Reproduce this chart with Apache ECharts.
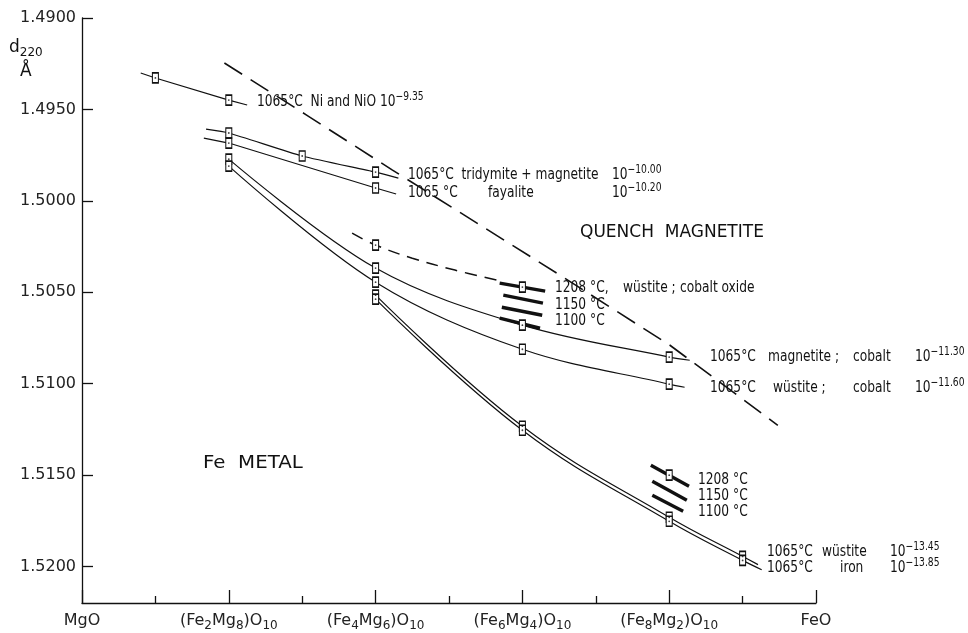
<!DOCTYPE html>
<html><head><meta charset="utf-8">
<script src="https://cdn.jsdelivr.net/npm/echarts@6/dist/echarts.min.js"></script>
<style>html,body{margin:0;padding:0;background:#fff}#c{width:968px;height:633px}</style>
</head><body><div id="c"></div>
<script>
// ---------- axis ticks / labels ----------
const xLabelVals = [0, 2, 4, 6, 8, 10];
const xLabels = ['MgO', '(Fe{s|2}Mg{s|8})O{s|10}', '(Fe{s|4}Mg{s|6})O{s|10}', '(Fe{s|6}Mg{s|4})O{s|10}', '(Fe{s|8}Mg{s|2})O{s|10}', 'FeO'];
const yMin = 1.4900, yMax = 1.5220, yStep = 0.0050;

// ---------- series values [composition index, d220 in Å] ----------
// 1065 °C Ni and NiO 10^-9.35
const niPts = [[1, 1.49328], [2, 1.49449]];
const niEnds = [[0.80, 1.49301], [2.25, 1.49476]];
// 1065 °C tridymite + magnetite 10^-10.00
const tridPts = [[2, 1.49629], [3, 1.49755], [4, 1.49843]];
const tridEnds = [[1.69, 1.49608], [4.31, 1.49876]];
// 1065 °C fayalite 10^-10.20
const fayPts = [[2, 1.49684], [4, 1.49930]];
const fayEnds = [[1.66, 1.49657], [4.28, 1.49963]];
// 1065 °C magnetite; cobalt 10^-11.30
const magCoPts = [[2, 1.49772], [4, 1.50368], [6, 1.50680], [8, 1.50855]];
const magCoEnds = [null, [8.28, 1.50872]];
// 1065 °C wüstite; cobalt 10^-11.60
const wusCoPts = [[2, 1.49810], [4, 1.50445], [6, 1.50812], [8, 1.51003]];
const wusCoEnds = [null, [8.21, 1.51020]];
// 1065 °C wüstite 10^-13.45
const wusPts = [[4, 1.50516], [6, 1.51233], [8, 1.51731], [9, 1.51945]];
const wusEnds = [null, [9.21, 1.51990]];
// 1065 °C iron 10^-13.85
const ironPts = [[4, 1.50538], [6, 1.51255], [8, 1.51753], [9, 1.51967]];
const ironEnds = [null, [9.26, 1.52018]];
// 1208 °C quench curve (dashed)
const quenchPts = [[4, 1.50242]];
const quenchPath = [[3.68, 1.50177], [4, 1.50242], [4.50, 1.50314], [5.08, 1.50379], [5.65, 1.50434]];
// quench-magnetite boundary (long dashes)
const boundary = [[1.94, 1.49246], [3.06, 1.49531], [4.23, 1.49832], [6.47, 1.50396], [8.01, 1.50790], [9.48, 1.51228]];
// 1208 / 1150 / 1100 °C short heavy segments
const heavy6 = [
  [[5.69, 1.50450], [6.31, 1.50494]],
  [[5.74, 1.50516], [6.28, 1.50560]],
  [[5.72, 1.50582], [6.27, 1.50626]],
  [[5.69, 1.50642], [6.24, 1.50697]]
];
const heavy8 = [
  [[7.75, 1.51447], [8.27, 1.51561]],
  [[7.77, 1.51534], [8.24, 1.51638]],
  [[7.77, 1.51611], [8.19, 1.51698]]
];
const hot1208Pts = [[6, 1.50472], [8, 1.51501]];

// ---------- styling ----------
const INK = '#111';
const AX = "'DejaVu Sans', 'Noto Sans', sans-serif";
const NARROW = "'Liberation Sans Narrow', 'DejaVu Sans Condensed', 'Roboto', sans-serif";

function curve(pts, ends, smooth, extra) {
  const data = [];
  if (ends && ends[0]) data.push(ends[0]);
  pts.forEach(p => data.push(p));
  if (ends && ends[1]) data.push(ends[1]);
  return Object.assign({
    type: 'line', data, symbol: 'none', showSymbol: false, smooth: smooth || false,
    lineStyle: { color: INK, width: 1.2 }, z: 2, silent: true, animation: false
  }, extra || {});
}
function squares(pts, size) {
  return { type: 'scatter', data: pts, symbol: 'rect', symbolSize: size || [6, 10],
    itemStyle: { color: '#fff', borderColor: INK, borderWidth: 1.3, opacity: 1 }, z: 4, silent: true, animation: false };
}
function dots(pts) {
  return { type: 'scatter', data: pts, symbol: 'circle', symbolSize: 1.8,
    itemStyle: { color: INK }, z: 5, silent: true, animation: false };
}

const series = [
  curve(niPts, niEnds, false),
  curve(tridPts, tridEnds, 0.2),
  curve(fayPts, fayEnds, false),
  curve(magCoPts, magCoEnds, 0.35),
  curve(wusCoPts, wusCoEnds, 0.35),
  curve(wusPts, wusEnds, 0.4),
  curve(ironPts, ironEnds, 0.4),
  curve(quenchPath, null, 0.4, { lineStyle: { color: INK, width: 1.5, type: [12, 8] } }),
  curve(boundary, null, false, { lineStyle: { color: INK, width: 1.6, type: [21, 10] } })
];
heavy6.concat(heavy8).forEach(seg => series.push(curve(seg, null, false, { lineStyle: { color: INK, width: 3.4 }, z: 3 })));
[niPts, tridPts, fayPts, magCoPts, wusCoPts, wusPts, ironPts, quenchPts, hot1208Pts].forEach(p => {
  series.push(squares(p));
  series.push(dots(p));
});

// ---------- text annotations ----------
const rich = {
  sup: { fontSize: 12, fontFamily: NARROW, fill: INK, verticalAlign: 'top', lineHeight: 12 },
  sub: { fontSize: 12, fontFamily: AX, fill: INK, verticalAlign: 'bottom', lineHeight: 12 }
};
function txt(x, y, text, size, family, sx) {
  return { type: 'text', x, y, silent: true, z: 10,
    scaleX: sx != null ? sx : (family ? 1 : 0.85),
    style: { text, fill: INK, fontSize: size || 16, fontFamily: family || NARROW,
      align: 'left', verticalAlign: 'middle', lineHeight: 22, rich } };
}
const graphics = [
  txt(9, 48, 'd{sub|220}', 17, AX),
  txt(20, 72, 'Å', 17, AX),
  txt(257, 102, '1065°C  Ni and NiO 10{sup|−9.35}'),
  txt(408, 175, '1065°C  tridymite + magnetite'),
  txt(612, 175, '10{sup|−10.00}'),
  txt(408, 193, '1065 °C'),
  txt(488, 193, 'fayalite'),
  txt(612, 193, '10{sup|−10.20}'),
  txt(580, 233, 'QUENCH  MAGNETITE', 17, AX),
  txt(555, 288, '1208 °C,'),
  txt(623, 288, 'wüstite ;'),
  txt(680, 288, 'cobalt oxide'),
  txt(555, 305, '1150 °C'),
  txt(555, 321, '1100 °C'),
  txt(710, 357, '1065°C'),
  txt(768, 357, 'magnetite ;'),
  txt(853, 357, 'cobalt'),
  txt(915, 357, '10{sup|−11.30}'),
  txt(710, 388, '1065°C'),
  txt(773, 388, 'wüstite ;'),
  txt(853, 388, 'cobalt'),
  txt(915, 388, '10{sup|−11.60}'),
  txt(203, 463, 'Fe  METAL', 18, AX, 1.1),
  txt(698, 480, '1208 °C'),
  txt(698, 496, '1150 °C'),
  txt(698, 512, '1100 °C'),
  txt(767, 552, '1065°C'),
  txt(822, 552, 'wüstite'),
  txt(890, 552, '10{sup|−13.45}'),
  txt(767, 568, '1065°C'),
  txt(840, 568, 'iron'),
  txt(890, 568, '10{sup|−13.85}')
];

const chart = echarts.init(document.getElementById('c'), null, { renderer: 'canvas' });
chart.setOption({
  animation: false,
  backgroundColor: '#fff',
  grid: { left: 82, right: 152, top: 18, bottom: 30, containLabel: false, outerBoundsMode: 'none' },
  xAxis: {
    type: 'value', min: 0, max: 10, interval: 2,
    axisLine: { show: true, onZero: false, lineStyle: { color: INK, width: 1.3 } },
    axisTick: { show: true, inside: true, length: 13, lineStyle: { color: INK, width: 1.3 } },
    minorTick: { show: true, splitNumber: 2, length: 7, lineStyle: { color: INK, width: 1.3 } },
    splitLine: { show: false },
    axisLabel: {
      show: true, margin: 7, color: '#222', fontSize: 16, fontFamily: AX, lineHeight: 22,
      showMinLabel: true, showMaxLabel: true,
      formatter: v => { const i = xLabelVals.indexOf(Math.round(v)); return i >= 0 ? xLabels[i] : ''; },
      rich: { s: { fontSize: 12, fontFamily: AX, color: '#222', verticalAlign: 'bottom', lineHeight: 12 } }
    }
  },
  yAxis: {
    type: 'value', inverse: true, min: yMin, max: yMax, interval: yStep,
    axisLine: { show: true, onZero: false, lineStyle: { color: INK, width: 1.3 } },
    axisTick: { show: true, inside: true, length: 11, lineStyle: { color: INK, width: 1.3 } },
    splitLine: { show: false },
    axisLabel: { margin: 6, color: '#222', fontSize: 16, fontFamily: AX, showMaxLabel: false,
      formatter: v => (Math.abs(v - yMax) < 1e-9 ? '' : v.toFixed(4)) }
  },
  series,
  graphic: graphics
});
</script></body></html>
